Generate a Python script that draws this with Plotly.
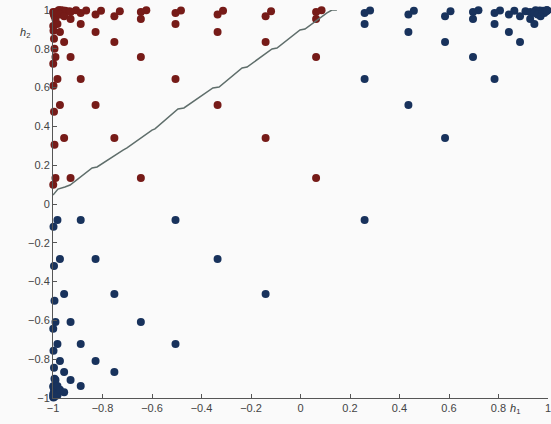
import plotly.graph_objects as go

# red class points (h1, h2)
red_x = [
    -0.977, -0.999, -0.999, -0.999, -0.999,
    -0.976, -0.998, -0.998, -0.998,
    -0.974, -0.996, -0.996, -0.996,
    -0.972, -0.994, -0.994, -0.994,
    -0.968, -0.990, -0.990, -0.990, -0.990,
    -0.960, -0.982, -0.982, -0.982,
    -0.950, -0.972, -0.972, -0.972,
    -0.933, -0.955, -0.955, -0.955,
    -0.907, -0.929, -0.929, -0.929, -0.929,
    -0.866, -0.888, -0.888, -0.888,
    -0.806, -0.828, -0.828, -0.828,
    -0.730, -0.752, -0.752, -0.752,
    -0.623, -0.645, -0.645, -0.645, -0.645,
    -0.483, -0.505, -0.505, -0.505,
    -0.313, -0.335, -0.335, -0.335,
    -0.119, -0.141, -0.141, -0.141,
    0.085, 0.063, 0.063, 0.063, 0.063,
]
red_y = [
    0.999, 0.990, 0.918, 0.723, 0.099,
    0.998, 0.984, 0.893, 0.609,
    0.996, 0.977, 0.852, 0.475,
    0.994, 0.968, 0.800, 0.305,
    0.999, 0.990, 0.953, 0.758, 0.134,
    0.998, 0.984, 0.928, 0.644,
    0.996, 0.977, 0.887, 0.510,
    0.994, 0.968, 0.835, 0.340,
    0.999, 0.990, 0.953, 0.758, 0.134,
    0.998, 0.984, 0.928, 0.644,
    0.996, 0.977, 0.887, 0.510,
    0.994, 0.968, 0.835, 0.340,
    0.999, 0.990, 0.953, 0.758, 0.134,
    0.998, 0.984, 0.928, 0.644,
    0.996, 0.977, 0.887, 0.510,
    0.994, 0.968, 0.835, 0.340,
    0.999, 0.990, 0.953, 0.758, 0.134,
]

# blue class points (h1, h2)
blue_x = [
    -0.999, -0.999, -0.999, -0.999,
    -0.998, -0.998, -0.998, -0.998, -0.998,
    -0.996, -0.996, -0.996, -0.996,
    -0.994, -0.994, -0.994, -0.994,
    -0.990, -0.990, -0.990,
    -0.982, -0.982, -0.982, -0.982,
    -0.972, -0.972, -0.972,
    -0.955, -0.955, -0.955,
    -0.929, -0.929,
    -0.888, -0.888, -0.888,
    -0.828, -0.828,
    -0.752, -0.752,
    -0.645,
    -0.505, -0.505,
    -0.335,
    -0.141,
    0.281, 0.259, 0.259, 0.259, 0.259,
    0.458, 0.436, 0.436, 0.436,
    0.606, 0.584, 0.584, 0.584,
    0.719, 0.697, 0.697, 0.697,
    0.806, 0.784, 0.784, 0.784,
    0.864, 0.842, 0.842,
    0.909, 0.887, 0.887,
    0.950, 0.928, 0.928,
    0.967, 0.945, 0.945,
    0.980, 0.958,
    0.990, 0.970,
    0.995, 0.979,
    0.998, 0.985,
    0.990, 0.993, 0.996,
]
blue_y = [
    -0.643, -0.942, -0.980, -0.995,
    -0.117, -0.757, -0.938, -0.986, -0.997,
    -0.319, -0.844, -0.958, -0.990,
    -0.499, -0.901, -0.971, -0.993,
    -0.608, -0.907, -0.980,
    -0.082, -0.722, -0.938, -0.986,
    -0.284, -0.809, -0.958,
    -0.464, -0.866, -0.971,
    -0.608, -0.907,
    -0.082, -0.722, -0.938,
    -0.284, -0.809,
    -0.464, -0.866,
    -0.608,
    -0.082, -0.722,
    -0.284,
    -0.464,
    0.998, 0.984, 0.928, 0.644, -0.082,
    0.996, 0.977, 0.887, 0.510,
    0.994, 0.968, 0.835, 0.340,
    0.999, 0.990, 0.953, 0.758,
    0.998, 0.984, 0.928, 0.644,
    0.996, 0.977, 0.887,
    0.994, 0.968, 0.835,
    0.999, 0.990, 0.953,
    0.998, 0.984, 0.928,
    0.996, 0.977,
    0.994, 0.968,
    0.999, 0.990,
    0.998, 0.984,
    0.996, 0.994, 0.999,
]

# separating boundary (staircase)
boundary_x = [-1.0, -0.980, -0.952, -0.931, -0.842, -0.822, -0.717, -0.701, -0.600, -0.588,
              -0.495, -0.471, -0.354, -0.329, -0.236, -0.216, -0.115, -0.095, -0.002, 0.018,
              0.107, 0.127, 0.147]
boundary_y = [0.046, 0.077, 0.088, 0.098, 0.186, 0.191, 0.278, 0.289, 0.381, 0.387,
              0.490, 0.495, 0.598, 0.603, 0.701, 0.706, 0.799, 0.804, 0.897, 0.902,
              0.985, 1.0, 1.0]

tick_vals = [-1, -0.8, -0.6, -0.4, -0.2, 0, 0.2, 0.4, 0.6, 0.8, 1]
tick_text = ["\u22121", "\u22120.8", "\u22120.6", "\u22120.4", "\u22120.2", "0", "0.2", "0.4", "0.6", "0.8", "1"]

RED = "#761b18"
BLUE = "#18325c"
LINE = "#5f6e6b"
BG = "#fafafa"
FONT = "Liberation Sans, Arial, sans-serif"

fig = go.Figure()
fig.add_trace(go.Scatter(x=red_x, y=red_y, mode="markers",
                         marker=dict(size=8, color=RED, line=dict(width=0)),
                         cliponaxis=False, showlegend=False))
fig.add_trace(go.Scatter(x=blue_x, y=blue_y, mode="markers",
                         marker=dict(size=8, color=BLUE, line=dict(width=0)),
                         cliponaxis=False, showlegend=False))
fig.add_trace(go.Scatter(x=boundary_x, y=boundary_y, mode="lines",
                         line=dict(color=LINE, width=1.5),
                         cliponaxis=False, showlegend=False))

axis_common = dict(
    range=[-1, 1], showgrid=False, zeroline=False, showline=True,
    linecolor="#555", linewidth=1, ticks="inside", ticklen=4,
    tickcolor="#555", tickvals=tick_vals, ticktext=tick_text,
    tickfont=dict(family=FONT, size=11, color="#444"),
    automargin=False, ticklabeloverflow="allow",
)

fig.update_layout(
    width=551, height=424,
    margin=dict(l=53, r=3, t=10, b=26),
    paper_bgcolor=BG, plot_bgcolor=BG,
    xaxis=dict(**axis_common),
    yaxis=dict(**axis_common),
    annotations=[
        dict(text="<i>h</i><sub>2</sub>", xref="paper", yref="paper",
             x=-0.071, y=0.964, showarrow=False,
             font=dict(family=FONT, size=11, color="#333")),
        dict(text="<i>h</i><sub>1</sub>", xref="paper", yref="paper",
             x=0.947, y=-0.052, showarrow=False,
             font=dict(family=FONT, size=11, color="#333")),
    ],
)

page_js = (
    "document.body.style.margin='0';"
    "document.body.style.overflow='hidden';"
    "document.documentElement.style.overflow='hidden';"
    "document.body.style.background='%s';" % BG
)
fig.write_html("out.html", post_script=page_js, config={"displayModeBar": False})
